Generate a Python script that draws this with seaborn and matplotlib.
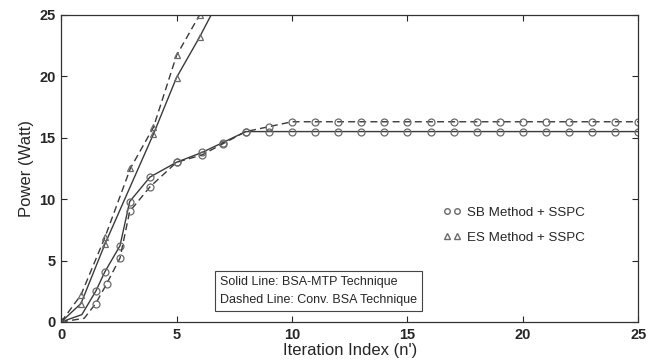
# plot.py
# Power vs iteration index for SB / ES methods with BSA-MTP (solid) and Conv. BSA (dashed).
import matplotlib
matplotlib.use("Agg")
import matplotlib.pyplot as plt
from matplotlib.lines import Line2D
import seaborn as sns

# SB Method + SSPC, solid (BSA-MTP)
sb_solid_x = [0, 0.9, 1.5, 1.9, 2.55, 2.97, 3.85, 5, 6.1, 7, 8, 9, 10, 11, 12, 13, 14, 15,
              16, 17, 18, 19, 20, 21, 22, 23, 24, 25]
sb_solid_y = [0, 0.6, 2.5, 4.1, 6.2, 9.8, 11.8, 13.0, 13.8, 14.6, 15.5, 15.5, 15.5, 15.5, 15.5,
              15.5, 15.5, 15.5, 15.5, 15.5, 15.5, 15.5, 15.5, 15.5, 15.5, 15.5, 15.5, 15.5]

# SB Method + SSPC, dashed (Conv. BSA)
sb_dash_x = [0, 1.0, 1.5, 1.97, 2.55, 2.97, 3.85, 5, 6.1, 7, 8, 9, 10, 11, 12, 13, 14, 15,
             16, 17, 18, 19, 20, 21, 22, 23, 24, 25]
sb_dash_y = [0, 0.3, 1.5, 3.1, 5.2, 9.0, 11.0, 13.0, 13.6, 14.5, 15.5, 15.9, 16.3, 16.3, 16.3,
             16.3, 16.3, 16.3, 16.3, 16.3, 16.3, 16.3, 16.3, 16.3, 16.3, 16.3, 16.3, 16.3]

# ES Method + SSPC
es_solid_x = [0, 0.86, 1.9, 4.0, 5, 6, 6.5]
es_solid_y = [0, 1.5, 6.35, 15.3, 19.9, 23.2, 25]
es_dash_x = [0, 0.86, 1.9, 3.0, 4.0, 5, 6]
es_dash_y = [0, 2.2, 6.9, 12.5, 15.85, 21.7, 25]

x_ticks = [0, 5, 10, 15, 20, 25]
y_ticks = [0, 5, 10, 15, 20, 25]

sns.set_style("ticks")
plt.rcParams["font.family"] = ["Liberation Sans", "DejaVu Sans"]

fig = plt.figure(figsize=(6.5, 3.63), dpi=100)
ax = fig.add_axes([0.094, 0.113, 0.888, 0.846])

line_col = "#3a3a3a"
mk_col = "#6a6a6a"
dash = (0, (5, 3))
common = dict(ax=ax, color=line_col, linewidth=1.0, markersize=5,
              markerfacecolor="none", markeredgecolor=mk_col, markeredgewidth=0.9,
              sort=False, estimator=None)

# markers only where the reference shows them (skip the first bend and the top exit)
sb_marks = [0] + list(range(2, len(sb_solid_x)))
sns.lineplot(x=sb_solid_x, y=sb_solid_y, marker="o", markevery=sb_marks, **common)
sns.lineplot(x=sb_dash_x, y=sb_dash_y, marker="o", linestyle=dash, markevery=sb_marks, **common)
sns.lineplot(x=es_solid_x, y=es_solid_y, marker="^", markevery=list(range(len(es_solid_x) - 1)),
             **common)
sns.lineplot(x=es_dash_x, y=es_dash_y, marker="^", linestyle=dash, **common)

ax.set_xlim(0, 25)
ax.set_ylim(0, 25)
ax.set_xticks(x_ticks)
ax.set_yticks(y_ticks)
ax.tick_params(direction="in", length=4, width=0.8, top=True, right=True,
               labelsize=10.5, pad=4)
for lab in ax.get_xticklabels() + ax.get_yticklabels():
    lab.set_fontweight("bold")
for s in ax.spines.values():
    s.set_linewidth(0.9)
    s.set_color("#333333")

ax.set_xlabel("Iteration Index (n')", fontsize=12, labelpad=1)
ax.set_ylabel("Power (Watt)", fontsize=12, labelpad=4)

handles = [
    Line2D([], [], linestyle="none", marker="o", markersize=4, markerfacecolor="none",
           markeredgecolor=mk_col),
    Line2D([], [], linestyle="none", marker="^", markersize=4, markerfacecolor="none",
           markeredgecolor=mk_col),
]
ax.legend(handles, ["SB Method + SSPC", "ES Method + SSPC"], numpoints=2, frameon=False,
          fontsize=9.6, loc="center left", bbox_to_anchor=(0.64, 0.315),
          handlelength=1.4, handletextpad=0.4, labelspacing=0.95)

ax.text(0.276, 0.1, "Solid Line: BSA-MTP Technique\nDashed Line: Conv. BSA Technique",
        transform=ax.transAxes, fontsize=9.0, linespacing=1.65, va="center", ha="left",
        bbox=dict(boxstyle="square,pad=0.4", facecolor="white", edgecolor="#444444",
                  linewidth=0.8))

fig.savefig("out.png", dpi=100)
